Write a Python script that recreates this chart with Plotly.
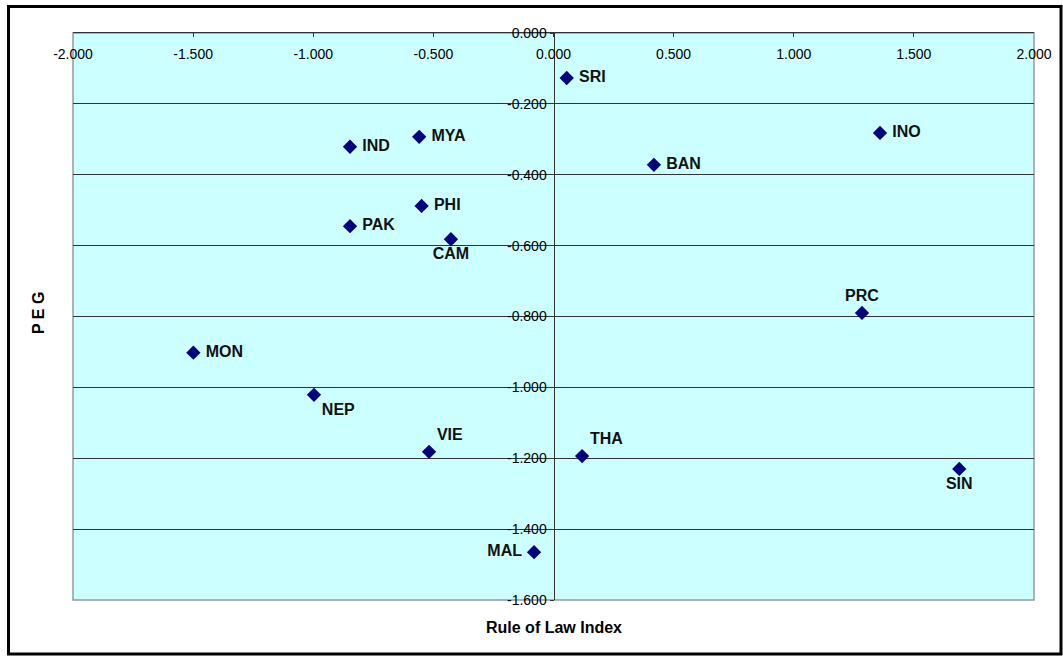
import plotly.graph_objects as go

countries = ["SRI", "INO", "BAN", "MYA", "IND", "PHI", "PAK", "CAM", "PRC",
             "MON", "NEP", "VIE", "THA", "SIN", "MAL"]
rule_of_law = [0.055, 1.359, 0.418, -0.559, -0.847, -0.549, -0.847, -0.427, 1.284,
               -1.499, -0.997, -0.518, 0.119, 1.689, -0.081]
peg = [-0.127, -0.282, -0.372, -0.293, -0.321, -0.488, -0.545, -0.582, -0.790,
       -0.902, -1.021, -1.182, -1.194, -1.230, -1.465]
label_pos = ["middle right", "middle right", "middle right", "middle right", "middle right",
             "middle right", "middle right", "bottom center", "top center",
             "middle right", "bottom right", "top right", "top right", "bottom center",
             "middle left"]

x_ticks = [-2.0, -1.5, -1.0, -0.5, 0.0, 0.5, 1.0, 1.5, 2.0]
y_ticks = [0.0, -0.2, -0.4, -0.6, -0.8, -1.0, -1.2, -1.4, -1.6]

templates = []
for pos in label_pos:
    if pos == "middle right":
        templates.append(" %{text}")
    elif pos == "middle left":
        templates.append("%{text} ")
    else:
        templates.append("%{text}")

fig = go.Figure()
fig.add_trace(go.Scatter(
    x=rule_of_law, y=peg, mode="markers+text",
    text=countries, textposition=label_pos, texttemplate=templates,
    textfont=dict(family="Liberation Sans", size=16, color="#111111", weight="bold"),
    marker=dict(symbol="diamond", size=11, color="#000080"),
    cliponaxis=False, showlegend=False, hoverinfo="x+y+text",
))
# invisible trace on the top axis so it is drawn
fig.add_trace(go.Scatter(x=[None], y=[None], xaxis="x2", showlegend=False,
                         hoverinfo="skip"))

L, R, T, B = 73, 29, 33, 56
W, H = 1063, 656
pw, ph = W - L - R, H - T - B

def px_x(p):
    return (p - L) / pw

def px_y(p):
    return (H - B - p) / ph

tick_font = dict(family="Liberation Sans", size=14, color="black")

fig.update_layout(
    width=W, height=H,
    margin=dict(l=L, r=R, t=T, b=B),
    paper_bgcolor="white", plot_bgcolor="#CCFFFF",
    font=dict(family="Liberation Sans", size=14, color="black"),
    xaxis=dict(
        range=[-2, 2], side="bottom", anchor="free", position=px_y(44),
        tickvals=x_ticks, ticktext=[f"{v:.3f}" for v in x_ticks],
        ticks="", tickfont=tick_font,
        showgrid=False, zeroline=False, showline=False, fixedrange=True,
    ),
    xaxis2=dict(
        range=[-2, 2], overlaying="x", side="top", anchor="y",
        tickvals=x_ticks, showticklabels=False,
        ticks="inside", ticklen=4, tickcolor="#333333",
        showgrid=False, zeroline=False, showline=True, linecolor="#333333", linewidth=1,
        fixedrange=True,
    ),
    yaxis=dict(
        range=[-1.6, 0], tickvals=y_ticks,
        ticktext=[f"{v:.3f}" for v in y_ticks], tickfont=tick_font,
        anchor="free", position=0.5, ticks="outside", ticklen=4, tickcolor="#333333",
        showgrid=True, gridcolor="#333333", gridwidth=1,
        zeroline=False, showline=True, linecolor="#333333", linewidth=1,
        fixedrange=True,
    ),
    shapes=[
        dict(type="rect", xref="paper", yref="paper", x0=0, x1=1, y0=0, y1=1,
             line=dict(color="#999999", width=1.5), layer="below"),
        dict(type="rect", xref="paper", yref="paper",
             x0=px_x(8.5), x1=px_x(1061), y0=px_y(654), y1=px_y(6.5),
             line=dict(color="black", width=3)),
    ],
    annotations=[
        dict(text="<b>Rule of Law Index</b>", xref="paper", yref="paper",
             x=0.5, y=px_y(627), xanchor="center", yanchor="middle",
             showarrow=False, font=dict(size=16)),
        dict(text="<b>P E G</b>", xref="paper", yref="paper",
             x=px_x(38), y=px_y(313), xanchor="center", yanchor="middle",
             showarrow=False, textangle=-90, font=dict(size=16)),
    ],
)

fig.write_html("out.html", config={"displayModeBar": False},
               post_script="document.body.style.margin='0px';")
